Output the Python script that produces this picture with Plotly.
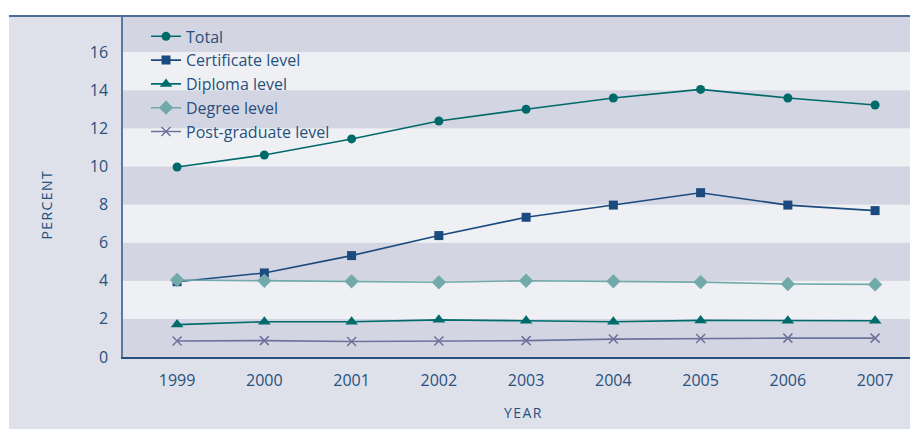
import plotly.graph_objects as go

years = [1999, 2000, 2001, 2002, 2003, 2004, 2005, 2006, 2007]
total = [9.97, 10.6, 11.44, 12.38, 13.0, 13.59, 14.04, 13.59, 13.22]
certificate = [3.95, 4.41, 5.32, 6.37, 7.33, 7.97, 8.62, 7.97, 7.68]
diploma = [1.7, 1.85, 1.85, 1.95, 1.9, 1.85, 1.92, 1.9, 1.9]
degree = [4.04, 4.0, 3.97, 3.92, 4.0, 3.97, 3.93, 3.83, 3.81]
postgrad = [0.84, 0.86, 0.81, 0.84, 0.86, 0.94, 0.97, 0.99, 0.99]
y_ticks = [0, 2, 4, 6, 8, 10, 12, 14, 16]

TEXT = "#28507e"
FONT = "Open Sans"
HS = "\u200a"

series = [
    ("Total", total, "#006a6a", dict(symbol="circle", size=9)),
    ("Certificate level", certificate, "#1a4a7e", dict(symbol="square", size=9)),
    ("Diploma level", diploma, "#006b6b", dict(symbol="triangle-up", size=11)),
    ("Degree level", degree, "#72a9aa", dict(symbol="diamond", size=11)),
    ("Post-graduate level", postgrad, "#6b739b", dict(symbol="x-thin-open", size=9, line=dict(width=1.5, color="#6b739b"))),
]

fig = go.Figure()
for i, (name, vals, col, mk) in enumerate(series):
    mk = dict(mk)
    mk.setdefault("color", col)
    fig.add_trace(go.Scatter(
        x=years, y=vals, name=name, mode="lines+markers",
        line=dict(color=col, width=1.6), marker=mk,
        legendgroup=f"g{i}",
    ))

PW = 787.0
PH = 341.0
shapes = []
shapes.append(dict(type="rect", xref="paper", yref="paper", x0=(9 - 123) / PW, x1=1.0, y0=-0.3, y1=1.0,
                   fillcolor="#dfe1ea", line=dict(width=0), layer="below"))
for k in range(9):
    y0 = 2 * k
    col = "#d3d5e2" if k % 2 == 0 else "#eef0f4"
    shapes.append(dict(type="rect", xref="paper", yref="y", x0=0, x1=1, y0=y0, y1=y0 + 2,
                       fillcolor=col, line=dict(width=0), layer="below"))
shapes.append(dict(type="line", xref="paper", yref="paper", x0=(9 - 123) / PW, x1=1.0, y0=1.0, y1=1.0,
                   line=dict(color="#4d6d94", width=2)))

fig.update_layout(
    width=910, height=429,
    margin=dict(l=123, r=0, t=16, b=72),
    paper_bgcolor="white", plot_bgcolor="rgba(0,0,0,0)",
    font=dict(family=FONT, color=TEXT, size=16),
    shapes=shapes,
    showlegend=True,
    legend=dict(x=(146 - 123) / PW, y=0.99, xanchor="left", yanchor="top", bgcolor="rgba(0,0,0,0)",
                font=dict(size=16, color=TEXT), tracegroupgap=0, itemwidth=30),
    xaxis=dict(range=[1998.38, 2007.4], tickvals=years, ticktext=[str(y) for y in years],
               showgrid=False, zeroline=False, showline=True, linecolor="#2a4f7f", linewidth=1.5,
               ticks="", tickfont=dict(size=16, color=TEXT), ticklabelstandoff=8),
    yaxis=dict(range=[0, 17.89], tickvals=y_ticks, showgrid=False, zeroline=False,
               showline=True, linecolor="#5a79a0", linewidth=1.5, ticks="",
               tickfont=dict(size=16, color=TEXT), ticklabelstandoff=10),
    annotations=[
        dict(text=HS.join("PERCENT"), xref="paper", yref="paper", x=(46 - 123) / PW, y=(357 - 205.5) / PH,
             xanchor="center", yanchor="middle",
             showarrow=False, textangle=-90, font=dict(size=14, color=TEXT)),
        dict(text=HS.join("YEAR"), xref="paper", yref="paper", x=(523 - 123) / PW, y=-(412 - 357) / PH,
             xanchor="center", yanchor="middle",
             showarrow=False, font=dict(size=14, color=TEXT)),
    ],
)

fig.write_html("out.html", config={"displayModeBar": False},
               post_script="document.body.style.margin='0';document.documentElement.style.overflow='hidden';document.body.style.overflow='hidden';")
